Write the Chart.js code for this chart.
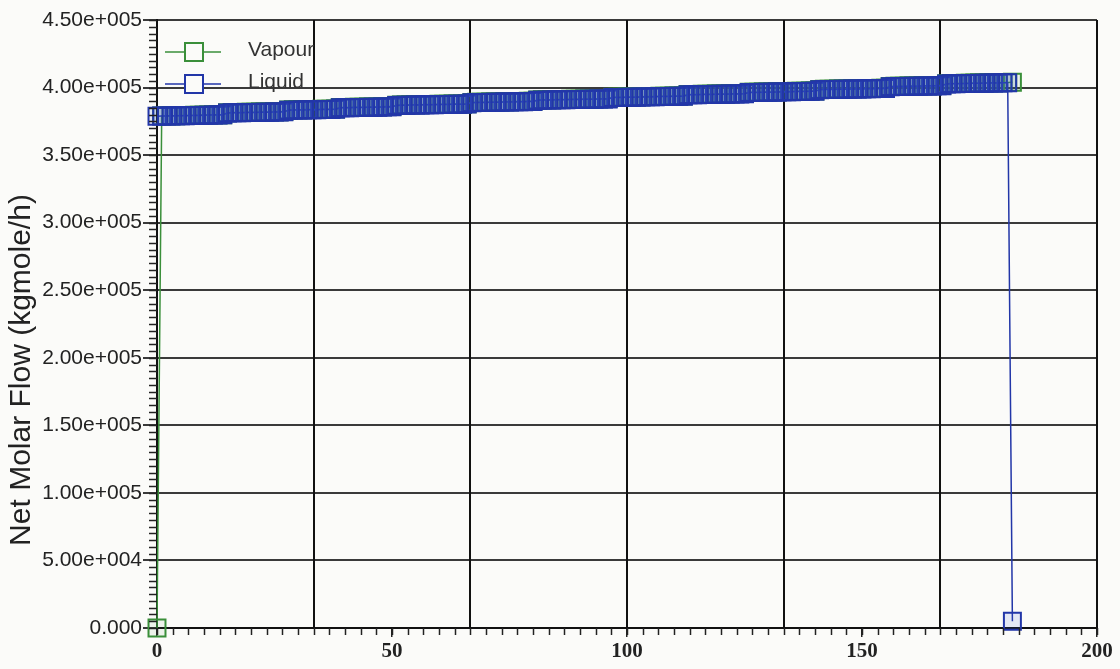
<!DOCTYPE html>
<html lang="en">
<head>
<meta charset="UTF-8">
<title>Net Molar Flow profile</title>
<script src="https://cdn.jsdelivr.net/npm/chart.js@4.4.0/dist/chart.umd.min.js"></script>
<style>
  html, body { margin: 0; padding: 0; background: #fbfbf9; }
  #wrap { width: 1120px; height: 669px; }
</style>
</head>
<body>
<div id="wrap"><canvas id="flowChart" width="1120" height="669"></canvas></div>
<script>
// tray position from top (x categories)
const trays = Array.from({ length: 183 }, (_, i) => i);

// vapour net molar flow, kgmole/h
const vapourFlow = [
  0, 379000, 379100, 379200, 379200, 379300, 379400, 379400, 379500, 379600,
  379600, 379700, 379800, 379900, 379900, 381400, 381500, 381500, 381600, 381700,
  381700, 381800, 381900, 381900, 382000, 382100, 382100, 382200, 383400, 383500,
  383500, 383600, 383700, 383700, 383800, 383900, 383900, 384000, 384100, 385200,
  385300, 385300, 385400, 385500, 385500, 385600, 385700, 385700, 385800, 385900,
  385900, 387000, 387100, 387100, 387200, 387300, 387300, 387400, 387500, 387500,
  387600, 387700, 387700, 387800, 387900, 387900, 388000, 389000, 389100, 389100,
  389200, 389300, 389300, 389400, 389500, 389500, 389600, 389700, 389700, 389800,
  389900, 390800, 390900, 390900, 391000, 391100, 391100, 391200, 391300, 391300,
  391400, 391500, 391500, 391600, 391700, 391700, 391800, 392800, 392900, 392900,
  393000, 393100, 393100, 393200, 393300, 393300, 393400, 393500, 393500, 393600,
  393700, 393700, 393800, 394800, 394900, 394900, 395000, 395100, 395100, 395200,
  395300, 395300, 395400, 395500, 395500, 395600, 396500, 396600, 396600, 396700,
  396800, 396800, 396900, 397000, 397000, 397100, 397200, 397200, 397300, 397400,
  397400, 398600, 398700, 398700, 398800, 398900, 398900, 399000, 399100, 399100,
  399200, 399300, 399300, 399400, 399500, 399500, 400800, 400900, 400900, 401000,
  401100, 401100, 401200, 401300, 401300, 401400, 401500, 401500, 402900, 403000,
  403000, 403100, 403200, 403200, 403300, 403400, 403400, 403500, 403600, 403600,
  403700, 403800, 403900
];

// liquid net molar flow, kgmole/h
const liquidFlow = [
  378800, 378900, 379000, 379000, 379100, 379200, 379200, 379300, 379400, 379400,
  379500, 379600, 379700, 379700, 379800, 381200, 381300, 381300, 381400, 381500,
  381500, 381600, 381700, 381700, 381800, 381900, 381900, 382000, 383200, 383300,
  383300, 383400, 383500, 383500, 383600, 383700, 383700, 383800, 383900, 385000,
  385100, 385100, 385200, 385300, 385300, 385400, 385500, 385500, 385600, 385700,
  385700, 386800, 386900, 386900, 387000, 387100, 387100, 387200, 387300, 387300,
  387400, 387500, 387500, 387600, 387700, 387700, 387800, 388800, 388900, 388900,
  389000, 389100, 389100, 389200, 389300, 389300, 389400, 389500, 389500, 389600,
  389700, 390600, 390700, 390700, 390800, 390900, 390900, 391000, 391100, 391100,
  391200, 391300, 391300, 391400, 391500, 391500, 391600, 392600, 392700, 392700,
  392800, 392900, 392900, 393000, 393100, 393100, 393200, 393300, 393300, 393400,
  393500, 393500, 393600, 394600, 394700, 394700, 394800, 394900, 394900, 395000,
  395100, 395100, 395200, 395300, 395300, 395400, 396300, 396400, 396400, 396500,
  396600, 396600, 396700, 396800, 396800, 396900, 397000, 397000, 397100, 397200,
  397200, 398400, 398500, 398500, 398600, 398700, 398700, 398800, 398900, 398900,
  399000, 399100, 399100, 399200, 399300, 399300, 400600, 400700, 400700, 400800,
  400900, 400900, 401000, 401100, 401100, 401200, 401300, 401300, 402700, 402800,
  402800, 402900, 403000, 403000, 403100, 403200, 403200, 403300, 403400, 403400,
  403500, 403600, 5000
];

const xTickLabels = [0, 50, 100, 150, 200];
const xGridDivisions = 6;     // vertical grid lines split 0-200 in 6
const xMinorPerDivision = 10;
const yStep = 50000;
const yMinorStep = 5000;
const yMax = 450000;
const yTitle = 'Net Molar Flow (kgmole/h)';

const vapourColor = '#3a8f3a';
const liquidColor = '#2236a8';

// HYSYS style exponent: 4.50e+005
function hysysExp(v) {
  if (v === 0) return '0.000';
  const parts = v.toExponential(2).split('e');
  const n = Math.abs(parseInt(parts[1], 10));
  return parts[0] + 'e' + (parts[1][0] === '-' ? '-' : '+') + String(n).padStart(3, '0');
}

function toPoints(values) {
  return trays.map((t, i) => ({ x: t, y: values[i] }));
}

// vertical grid, minor ticks, axis title and the in-plot legend
const hysysFrame = {
  id: 'hysysFrame',
  beforeDatasetsDraw(chart) {
    const ctx = chart.ctx;
    const ca = chart.chartArea;
    const xs = chart.scales.x;
    ctx.save();
    ctx.strokeStyle = '#111';
    ctx.lineWidth = 2;
    for (let k = 0; k <= xGridDivisions; k++) {
      const px = Math.round(xs.getPixelForValue(xs.max * k / xGridDivisions));
      ctx.beginPath();
      ctx.moveTo(px, ca.top);
      ctx.lineTo(px, ca.bottom);
      ctx.stroke();
    }
    ctx.restore();
  },
  afterDraw(chart) {
    const ctx = chart.ctx;
    const ca = chart.chartArea;
    const xs = chart.scales.x;
    const ys = chart.scales.y;
    ctx.save();
    ctx.strokeStyle = '#222';
    ctx.lineWidth = 1.5;
    // y minor ticks
    for (let v = 0; v <= yMax; v += yMinorStep) {
      const py = Math.round(ys.getPixelForValue(v)) + 0.5;
      ctx.beginPath();
      ctx.moveTo(ca.left - 8, py);
      ctx.lineTo(ca.left, py);
      ctx.stroke();
    }
    // x minor ticks
    const n = xGridDivisions * xMinorPerDivision;
    for (let k = 0; k <= n; k++) {
      const px = Math.round(xs.getPixelForValue(xs.max * k / n)) + 0.5;
      ctx.beginPath();
      ctx.moveTo(px, ca.bottom);
      ctx.lineTo(px, ca.bottom + 7);
      ctx.stroke();
    }

    // y axis title, sits a bit below the middle like the original
    ctx.save();
    ctx.translate(22, ca.top + (ca.bottom - ca.top) / 2 + 46);
    ctx.rotate(-Math.PI / 2);
    ctx.font = '30px "Liberation Sans", Arial, sans-serif';
    ctx.fillStyle = '#222';
    ctx.textAlign = 'center';
    ctx.textBaseline = 'middle';
    ctx.fillText(yTitle, 0, 0);
    ctx.restore();

    // legend
    const items = [
      { label: 'Vapour', color: vapourColor, dy: 32 },
      { label: 'Liquid', color: liquidColor, dy: 64 }
    ];
    ctx.font = '21px "Liberation Sans", Arial, sans-serif';
    ctx.textBaseline = 'middle';
    items.forEach(it => {
      const y = ca.top + it.dy;
      ctx.strokeStyle = it.color;
      ctx.lineWidth = 1.5;
      ctx.beginPath();
      ctx.moveTo(ca.left + 8, y);
      ctx.lineTo(ca.left + 64, y);
      ctx.stroke();
      ctx.fillStyle = '#fbfbf9';
      ctx.fillRect(ca.left + 28, y - 9, 18, 18);
      ctx.lineWidth = 2;
      ctx.strokeRect(ca.left + 28, y - 9, 18, 18);
      ctx.fillStyle = '#333';
      ctx.fillText(it.label, ca.left + 91, y - 2);
    });
    ctx.restore();
  }
};

new Chart(document.getElementById('flowChart').getContext('2d'), {
  type: 'line',
  data: {
    datasets: [
      {
        label: 'Vapour',
        data: toPoints(vapourFlow),
        borderColor: vapourColor,
        borderWidth: 1.5,
        pointStyle: 'rect',
        pointRadius: 12,
        pointBorderWidth: 2,
        pointBorderColor: vapourColor,
        pointBackgroundColor: 'rgba(58,143,58,0.08)',
        clip: false,
        order: 1
      },
      {
        label: 'Liquid',
        data: toPoints(liquidFlow),
        borderColor: liquidColor,
        borderWidth: 1.5,
        pointStyle: 'rect',
        pointRadius: 12,
        pointBorderWidth: 2,
        pointBorderColor: liquidColor,
        pointBackgroundColor: 'rgba(60,90,210,0.12)',
        clip: false,
        order: 0
      }
    ]
  },
  options: {
    responsive: false,
    devicePixelRatio: 1,
    animation: false,
    layout: { padding: { top: 20, right: 23, left: 0, bottom: 0 } },
    plugins: {
      legend: { display: false },
      tooltip: { enabled: false }
    },
    scales: {
      x: {
        type: 'linear',
        min: 0,
        max: 200,
        afterBuildTicks: axis => { axis.ticks = xTickLabels.map(v => ({ value: v })); },
        afterFit: scale => { scale.height = 41; },
        grid: { drawOnChartArea: false, tickLength: 9, color: '#222', lineWidth: 1.5 },
        border: { color: '#111', width: 2 },
        ticks: {
          font: { family: '"Liberation Serif", "Times New Roman", serif', weight: 'bold', size: 21 },
          color: '#222',
          padding: 2,
          maxRotation: 0
        }
      },
      y: {
        min: 0,
        max: yMax,
        afterFit: scale => { scale.width = 157; },
        grid: { color: '#3a3a3a', lineWidth: 2, tickLength: 14 },
        border: { color: '#111', width: 2 },
        ticks: {
          stepSize: yStep,
          callback: v => hysysExp(v),
          font: { family: '"Liberation Sans", Arial, sans-serif', size: 21 },
          color: '#222',
          padding: 1
        }
      }
    }
  },
  plugins: [hysysFrame]
});
</script>
</body>
</html>
